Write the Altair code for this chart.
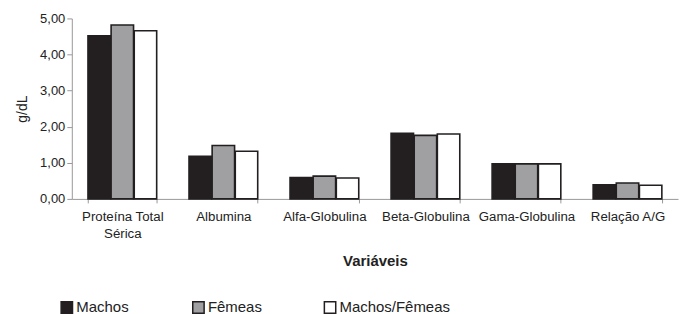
import altair as alt
import pandas as pd

categories = ["Proteína Total Sérica", "Albumina", "Alfa-Globulina",
              "Beta-Globulina", "Gama-Globulina", "Relação A/G"]
series = ["Machos", "Fêmeas", "Machos/Fêmeas"]
machos = [4.52, 1.18, 0.59, 1.82, 0.97, 0.39]
femeas = [4.82, 1.48, 0.63, 1.76, 0.97, 0.44]
machos_femeas = [4.66, 1.32, 0.58, 1.80, 0.97, 0.38]

rows = []
for s, vals in zip(series, [machos, femeas, machos_femeas]):
    for c, v in zip(categories, vals):
        rows.append({"Variável": c, "Grupo": s, "valor": v})
df = pd.DataFrame(rows)

FONT = "Liberation Sans"

chart = alt.Chart(df).mark_bar(stroke="#231f20", strokeWidth=1.6).encode(
    x=alt.X("Variável:N", sort=categories,
            scale=alt.Scale(paddingInner=0.32, paddingOuter=0.16),
            axis=alt.Axis(title="Variáveis", labelAngle=0, tickBand="extent",
                          labelExpr="datum.label == 'Proteína Total Sérica' ? ['Proteína Total', 'Sérica'] : datum.label",
                          labelPadding=7, labelFontSize=13.3, labelLineHeight=17,
                          titlePadding=14, titleFontSize=15, titleFontWeight="bold",
                          tickSize=4, domainColor="#999", tickColor="#999")),
    xOffset=alt.XOffset("Grupo:N", sort=series, scale=alt.Scale(paddingInner=0.03)),
    y=alt.Y("valor:Q", scale=alt.Scale(domain=[0, 5]),
            axis=alt.Axis(title="g/dL", values=[0, 1, 2, 3, 4, 5], grid=False,
                          labelExpr="replace(format(datum.value, '.2f'), '.', ',')",
                          tickSize=5, domainColor="#999", tickColor="#999",
                          titleFontWeight="normal", titlePadding=10)),
    color=alt.Color("Grupo:N", sort=series,
                    scale=alt.Scale(domain=series, range=["#231f20", "#a0a0a3", "#ffffff"]),
                    legend=alt.Legend(title=None, orient="none", direction="horizontal",
                                      legendX=-12.5, legendY=282,
                                      symbolType="square", symbolSize=130,
                                      symbolStrokeColor="#231f20", symbolStrokeWidth=1.5,
                                      symbolOpacity=1,
                                      labelFontSize=15, labelOffset=2,
                                      gridAlign="all", columnPadding=2)),
).properties(
    width=608, height=181,
    padding={"left": 7, "top": 4, "right": 5, "bottom": 0},
).configure_view(stroke=None).configure_axis(
    labelFont=FONT, titleFont=FONT, labelFontSize=13, titleFontSize=14,
    labelColor="#222", titleColor="#222",
).configure_legend(
    labelFont=FONT, labelColor="#222"
)

chart.save("out.html", embed_options={"renderer": "svg", "actions": False})
